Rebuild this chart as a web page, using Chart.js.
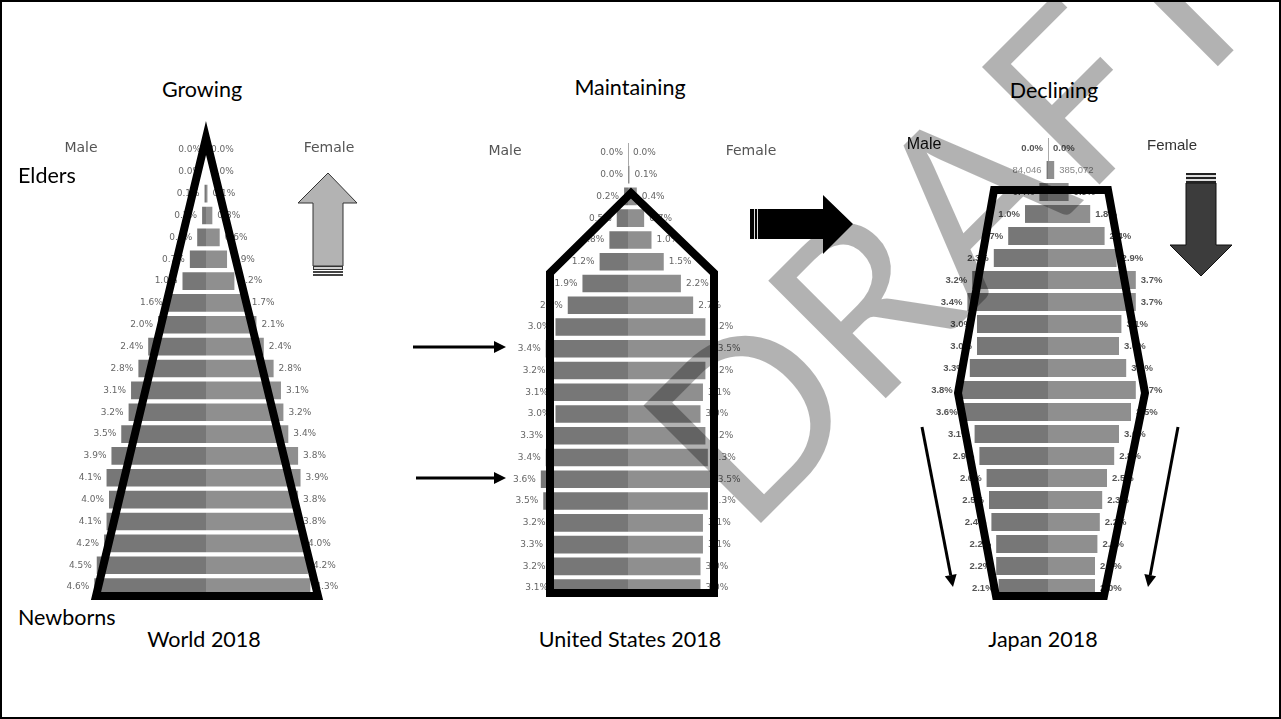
<!DOCTYPE html>
<html>
<head>
<meta charset="utf-8">
<script src="https://cdn.jsdelivr.net/npm/chart.js@4.4.1/dist/chart.umd.min.js"></script>
<style>
  html, body { margin: 0; padding: 0; background: #fff; }
  #page { position: relative; width: 1281px; height: 719px; overflow: hidden; background: #fff; }
  canvas.pyr { position: absolute; }
  #overlay { position: absolute; left: 0; top: 0; z-index: 5; pointer-events: none; }
  .t { position: absolute; white-space: nowrap; line-height: 1; transform: translate(-50%, -50%); }
  .l { transform: translate(0, -50%); }
  .title { font-family: Lato, sans-serif; font-size: 21.5px; color: #000; }
  .sex { font-family: "DejaVu Sans", sans-serif; font-size: 14px; color: #555; }
  .sexjp { font-family: "Liberation Sans", Arial, sans-serif; font-size: 15px; color: #333; }
</style>
</head>
<body>
<div id="page">
  <canvas id="world" class="pyr"></canvas>
  <canvas id="us" class="pyr"></canvas>
  <canvas id="japan" class="pyr"></canvas>

  <div class="t title" style="left:202px;top:90px">Growing</div>
  <div class="t title" style="left:630px;top:88px">Maintaining</div>
  <div class="t title" style="left:1054px;top:91px">Declining</div>
  <div class="t title l" style="left:18px;top:176px">Elders</div>
  <div class="t title l" style="left:18px;top:618px">Newborns</div>
  <div class="t title" style="left:204px;top:640px">World 2018</div>
  <div class="t title" style="left:630px;top:640px">United States 2018</div>
  <div class="t title" style="left:1043px;top:640px">Japan 2018</div>

  <div class="t sex" style="left:81px;top:147px">Male</div>
  <div class="t sex" style="left:329px;top:147px">Female</div>
  <div class="t sex" style="left:505px;top:150px">Male</div>
  <div class="t sex" style="left:751px;top:150px">Female</div>
  <div class="t sexjp" style="left:924px;top:144px;color:#111;font-size:16px">Male</div>
  <div class="t sexjp" style="left:1172px;top:144px">Female</div>

  <canvas id="overlay" width="1281" height="719"></canvas>
</div>

<script>
// age groups, oldest at the top
const ageGroups = ['100+', '95-99', '90-94', '85-89', '80-84', '75-79', '70-74', '65-69', '60-64',
  '55-59', '50-54', '45-49', '40-44', '35-39', '30-34', '25-29', '20-24', '15-19', '10-14', '5-9', '0-4'];

// share of total population, %
const worldMale   = [0.0, 0.0, 0.1, 0.2, 0.4, 0.7, 1.0, 1.6, 2.0, 2.4, 2.8, 3.1, 3.2, 3.5, 3.9, 4.1, 4.0, 4.1, 4.2, 4.5, 4.6];
const worldFemale = [0.0, 0.0, 0.1, 0.3, 0.6, 0.9, 1.2, 1.7, 2.1, 2.4, 2.8, 3.1, 3.2, 3.4, 3.8, 3.9, 3.8, 3.8, 4.0, 4.2, 4.3];

const usMale   = [0.0, 0.0, 0.2, 0.5, 0.8, 1.2, 1.9, 2.5, 3.0, 3.4, 3.2, 3.1, 3.0, 3.3, 3.4, 3.6, 3.5, 3.2, 3.3, 3.2, 3.1];
const usFemale = [0.0, 0.1, 0.4, 0.7, 1.0, 1.5, 2.2, 2.7, 3.2, 3.5, 3.2, 3.1, 3.0, 3.2, 3.3, 3.5, 3.3, 3.1, 3.1, 3.0, 3.0];

const japanMale   = [0.0, 0.1, 0.4, 1.0, 1.7, 2.3, 3.2, 3.4, 3.0, 3.0, 3.3, 3.8, 3.6, 3.1, 2.9, 2.6, 2.5, 2.4, 2.2, 2.2, 2.1];
const japanFemale = [0.0, 0.3, 0.9, 1.8, 2.4, 2.9, 3.7, 3.7, 3.1, 3.0, 3.3, 3.7, 3.5, 3.0, 2.8, 2.5, 2.3, 2.2, 2.1, 2.0, 2.0];
// the 95-99 row of the Japan pyramid shows head counts instead of percentages
const japanCounts95 = ['84,046', '385,072'];

const pct = v => v.toFixed(1) + '%';

const barLabels = {
  id: 'barLabels',
  afterDatasetsDraw(chart, args, o) {
    const ctx = chart.ctx;
    ctx.save();
    ctx.textBaseline = 'middle';
    const x0 = chart.scales.x.getPixelForValue(0);
    if (o.centerLine) {
      const y = chart.scales.y;
      const h = y.height / ageGroups.length;
      ctx.strokeStyle = '#aaa';
      ctx.lineWidth = 1;
      ctx.beginPath();
      ctx.moveTo(Math.round(x0) + 0.5, y.getPixelForValue(0) - h / 2 + 1);
      ctx.lineTo(Math.round(x0) + 0.5, y.getPixelForValue(0) + h / 2 + 2);
      ctx.stroke();
    }
    chart.data.datasets.forEach((ds, di) => {
      chart.getDatasetMeta(di).data.forEach((bar, i) => {
        const txt = o.texts[di][i];
        const special = o.special && o.special[i];
        ctx.font = special ? o.specialFont : o.font;
        ctx.fillStyle = special ? o.specialColor : o.color;
        if (di === 0) {
          ctx.textAlign = 'right';
          ctx.fillText(txt, Math.min(bar.x, x0 - 1) - 4, bar.y);
        } else {
          ctx.textAlign = 'left';
          ctx.fillText(txt, Math.max(bar.x, x0 + 1) + 4, bar.y);
        }
      });
    });
    ctx.restore();
  }
};

function pyramid(id, male, female, s) {
  const canvas = document.getElementById(id);
  const h = Math.round(s.rowH * ageGroups.length);
  canvas.width = s.width;
  canvas.height = h;
  canvas.style.left = (s.cx - s.width / 2) + 'px';
  canvas.style.top = s.top + 'px';
  const half = s.width / 2 / s.pxPerPct;
  const barStyle = {
    borderColor: 'rgba(255,255,255,0.3)',
    borderWidth: 1,
    borderSkipped: 'start',
    barPercentage: 0.9,
    categoryPercentage: 1.0
  };
  return new Chart(canvas, {
    type: 'bar',
    data: {
      labels: ageGroups,
      datasets: [
        Object.assign({ label: 'Male', data: male.map(v => -v), backgroundColor: '#777777' }, barStyle),
        Object.assign({ label: 'Female', data: female, backgroundColor: '#8f8f8f' }, barStyle)
      ]
    },
    options: {
      indexAxis: 'y',
      responsive: false,
      animation: false,
      devicePixelRatio: 1,
      layout: { padding: 0 },
      scales: {
        x: { display: false, stacked: true, min: -half, max: half },
        y: { display: false, stacked: true }
      },
      plugins: {
        legend: { display: false },
        tooltip: { enabled: false },
        barLabels: {
          texts: s.texts,
          font: s.font,
          color: s.color,
          centerLine: s.centerLine,
          special: s.special,
          specialFont: s.specialFont,
          specialColor: s.specialColor
        }
      }
    },
    plugins: [barLabels]
  });
}

pyramid('world', worldMale, worldFemale, {
  cx: 206, top: 139, rowH: 21.85, width: 340, pxPerPct: 24.5,
  texts: [worldMale.map(pct), worldFemale.map(pct)],
  font: '9px "DejaVu Sans"', color: '#666'
});

pyramid('us', usMale, usFemale, {
  cx: 628, top: 142, rowH: 21.75, width: 340, pxPerPct: 24.5, centerLine: true,
  texts: [usMale.map(pct), usFemale.map(pct)],
  font: '9px "DejaVu Sans"', color: '#666'
});

const jpMaleText = japanMale.map(pct);
const jpFemaleText = japanFemale.map(pct);
jpMaleText[1] = japanCounts95[0];
jpFemaleText[1] = japanCounts95[1];
pyramid('japan', japanMale, japanFemale, {
  cx: 1048, top: 137, rowH: 22, width: 340, pxPerPct: 24, centerLine: true,
  texts: [jpMaleText, jpFemaleText],
  font: 'bold 9.5px "Liberation Sans"', color: '#555',
  special: ageGroups.map((g, i) => i === 1),
  specialFont: '9.5px "Liberation Sans"', specialColor: '#888'
});

// annotations drawn on top of the charts
const ov = document.getElementById('overlay').getContext('2d');

function poly(pts, close) {
  ov.beginPath();
  ov.moveTo(pts[0][0], pts[0][1]);
  for (let i = 1; i < pts.length; i++) ov.lineTo(pts[i][0], pts[i][1]);
  if (close) ov.closePath();
}

function thinArrow(x1, y1, x2, y2) {
  const a = Math.atan2(y2 - y1, x2 - x1);
  const len = 12, wid = 6;
  const bx = x2 - len * Math.cos(a), by = y2 - len * Math.sin(a);
  ov.strokeStyle = '#000';
  ov.lineWidth = 3;
  ov.beginPath();
  ov.moveTo(x1, y1);
  ov.lineTo(bx, by);
  ov.stroke();
  ov.fillStyle = '#000';
  poly([[x2, y2],
    [bx + wid * Math.sin(a), by - wid * Math.cos(a)],
    [bx - wid * Math.sin(a), by + wid * Math.cos(a)]], true);
  ov.fill();
}

// frame
ov.strokeStyle = '#000';
ov.lineWidth = 2;
ov.strokeRect(1, 1, 1279, 717);

// shapes around the pyramids
ov.lineWidth = 8;
ov.lineJoin = 'miter';
ov.miterLimit = 10;
poly([[206, 138], [318, 596], [96, 596]], true);
ov.stroke();
poly([[550, 593], [550, 273], [631, 193], [714, 273], [714, 593]], true);
ov.stroke();
poly([[994, 190], [1108, 190], [1145, 393], [1104, 596], [996, 596], [958, 393]], true);
ov.stroke();

// grey up arrow
ov.lineWidth = 1;
ov.fillStyle = '#b3b3b3';
ov.strokeStyle = '#333';
poly([[328, 173], [357, 203], [343, 203], [343, 266], [313, 266], [313, 203], [298, 203]], true);
ov.fill();
ov.stroke();
ov.fillStyle = '#d0d0d0';
ov.fillRect(313, 267, 30, 3);
ov.strokeRect(313.5, 266.5, 29, 3);
ov.fillStyle = '#444';
ov.fillRect(313, 271, 30, 2);
ov.fillRect(313, 274, 30, 2);

// black right arrow
ov.fillStyle = '#000';
poly([[750, 209], [823, 209], [823, 195], [853, 224], [823, 254], [823, 239], [750, 239]], true);
ov.fill();
ov.fillStyle = '#ddd';
ov.fillRect(754, 209, 1, 30);
ov.fillRect(757, 209, 1, 30);

// dark down arrow
ov.fillStyle = '#3c3c3c';
ov.strokeStyle = '#111';
poly([[1186, 183], [1216, 183], [1216, 245], [1232, 245], [1201, 276], [1170, 245], [1186, 245]], true);
ov.fill();
ov.stroke();
ov.fillStyle = '#222';
ov.fillRect(1186, 173, 30, 2);
ov.fillRect(1186, 177, 30, 2);
ov.fillRect(1186, 181, 30, 2);
ov.fillStyle = '#ddd';
ov.fillRect(1186, 175, 30, 2);
ov.fillRect(1186, 179, 30, 2);

// thin arrows
thinArrow(413, 347, 506, 347);
thinArrow(416, 478, 506, 478);
thinArrow(922, 427, 953, 587);
thinArrow(1178, 427, 1148, 587);

// watermark
ov.save();
ov.translate(746, 538);
ov.rotate(-Math.PI / 4);
ov.font = '232px Lato';
ov.fillStyle = 'rgba(0,0,0,0.3)';
ov.fillText('DRAFT', 0, 0);
ov.restore();
</script>
</body>
</html>
